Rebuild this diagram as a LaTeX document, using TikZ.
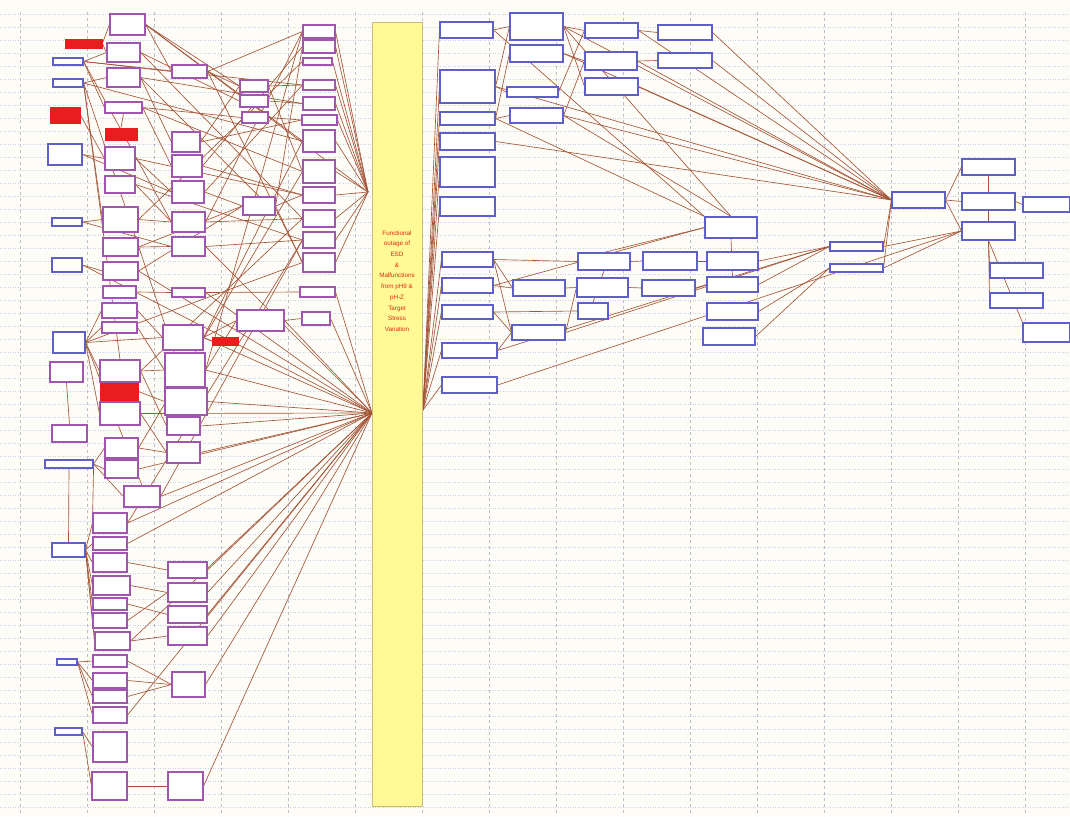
\documentclass[tikz,border=0pt]{standalone}
\usepackage{fontspec}
\newfontfamily\barfont{Liberation Sans}
\usepackage{xcolor}
\usepackage{tikz}
\usetikzlibrary{backgrounds}

\definecolor{sheet}{RGB}{253,252,246}
\definecolor{hgridc}{RGB}{200,210,238}
\definecolor{vgridc}{RGB}{190,190,205}
\definecolor{boxblue}{RGB}{95,95,200}
\definecolor{boxpurple}{RGB}{160,85,175}
\definecolor{boxred}{RGB}{232,30,30}
\definecolor{wirebrown}{RGB}{165,85,55}
\definecolor{baryellow}{RGB}{255,250,150}
\definecolor{barline}{RGB}{205,185,120}
\definecolor{bartextc}{RGB}{225,40,20}

\begin{document}
\begin{tikzpicture}[
  x=1pt, y=-1pt,
  wh/.style 2 args={minimum width=#1, minimum height=#2},
  bbox/.style={draw=boxblue, line width=1.1pt, fill=white, inner sep=0pt},
  pbox/.style={draw=boxpurple, line width=1.1pt, fill=white, inner sep=0pt},
  rbox/.style={draw=boxred, line width=0.8pt, fill=boxred, inner sep=0pt},
  bar/.style={draw=barline, line width=0.8pt, fill=baryellow, inner sep=0pt},
  bartext/.style={font=\barfont\fontsize{6.3}{10.7}\selectfont, text=bartextc, align=center, inner sep=0pt},
  wire/.style={draw=wirebrown, line width=0.65pt},
  hgrid/.style={draw=hgridc, line width=0.5pt, dotted},
  vgrid/.style={draw=vgridc, line width=0.5pt, dashed}
]
\useasboundingbox (0,0) rectangle (1070,816);

% sheet and grid
\begin{scope}[on background layer]
\fill[sheet] (0,0) rectangle (1070,816);
\foreach \gy in {14,27,...,814} \draw[hgrid] (0,\gy) -- (1070,\gy);
\foreach \gx in {20,87,...,1060} \draw[vgrid] (\gx,12) -- (\gx,816);
\end{scope}

% central bar
\node[bar, wh={50}{784}] (esd) at (397,414) {};
\node[bartext] (esdtxt) at (397,281) {Functional\\outage of\\ESD\\\&\\Malfunctions\\from pH9 \&\\pH-Z\\Target\\Stress\\Variation};
\coordinate (hubL) at (372,413);
\coordinate (hubU) at (368,192);
\coordinate (hubR) at (423,410);

% left: column a
\node[rbox, wh={37}{9}]  (a1)  at (83.5,43.5) {};
\node[bbox, wh={30}{7}]  (a2)  at (68,61.5) {};
\node[bbox, wh={30}{8}]  (a3)  at (68,83) {};
\node[rbox, wh={30}{16}] (a4)  at (65,115) {};
\node[bbox, wh={34}{21}] (a5)  at (65,154.5) {};
\node[bbox, wh={30}{8}]  (a6)  at (67,222) {};
\node[bbox, wh={30}{14}] (a7)  at (67,265) {};
\node[bbox, wh={32}{21}] (a8)  at (69,342.5) {};
\node[pbox, wh={33}{20}] (a9)  at (66.5,372) {};
\node[pbox, wh={35}{17}] (a10) at (69.5,433.5) {};
\node[bbox, wh={48}{8}]  (a11) at (69,464) {};
\node[bbox, wh={33}{14}] (a12) at (68.5,550) {};
\node[bbox, wh={20}{6}]  (a13) at (67,662) {};
\node[bbox, wh={27}{7}]  (a14) at (68.5,731.5) {};

% left: column b
\node[pbox, wh={35}{21}] (b1)  at (127.5,24.5) {};
\node[pbox, wh={33}{19}] (b2)  at (123.5,52.5) {};
\node[pbox, wh={33}{19}] (b3)  at (123.5,77.5) {};
\node[pbox, wh={37}{11}] (b4)  at (123.5,107.5) {};
\node[rbox, wh={32}{12}] (b5)  at (121,134) {};
\node[pbox, wh={30}{23}] (b6)  at (120,158.5) {};
\node[pbox, wh={30}{17}] (b7)  at (120,184.5) {};
\node[pbox, wh={35}{25}] (b8)  at (120.5,219.5) {};
\node[pbox, wh={35}{18}] (b9)  at (120.5,247) {};
\node[pbox, wh={35}{18}] (b10) at (120.5,271) {};
\node[pbox, wh={33}{12}] (b11) at (119.5,292) {};
\node[pbox, wh={35}{15}] (b12) at (119.5,310.5) {};
\node[pbox, wh={35}{11}] (b13) at (119.5,327.5) {};
\node[pbox, wh={40}{22}] (b14) at (120,371) {};
\node[rbox, wh={38}{17}] (b15) at (119,391.5) {};
\node[pbox, wh={40}{23}] (b16) at (120,413.5) {};
\node[pbox, wh={33}{20}] (b17) at (121.5,448) {};
\node[pbox, wh={33}{18}] (b18) at (121.5,469) {};
\node[pbox, wh={36}{21}] (b19) at (142,496.5) {};
\node[pbox, wh={34}{20}] (b20) at (110,523) {};
\node[pbox, wh={34}{13}] (b21) at (110,543.5) {};
\node[pbox, wh={34}{19}] (b22) at (110,562.5) {};
\node[pbox, wh={37}{19}] (b23) at (111.5,585.5) {};
\node[pbox, wh={34}{12}] (b24) at (110,604) {};
\node[pbox, wh={34}{15}] (b25) at (110,620.5) {};
\node[pbox, wh={35}{18}] (b26) at (112.5,641) {};
\node[pbox, wh={34}{12}] (b27) at (110,661) {};
\node[pbox, wh={34}{15}] (b28) at (110,680.5) {};
\node[pbox, wh={34}{13}] (b29) at (110,696.5) {};
\node[pbox, wh={34}{16}] (b30) at (110,715) {};
\node[pbox, wh={34}{30}] (b31) at (110,747) {};
\node[pbox, wh={35}{28}] (b32) at (109.5,786) {};

% left: column c
\node[pbox, wh={35}{13}] (c1)  at (189.5,71.5) {};
\node[pbox, wh={28}{20}] (c2)  at (186,142) {};
\node[pbox, wh={30}{22}] (c3)  at (187,166) {};
\node[pbox, wh={32}{22}] (c4)  at (188,192) {};
\node[pbox, wh={33}{20}] (c5)  at (188.5,222) {};
\node[pbox, wh={33}{19}] (c6)  at (188.5,246.5) {};
\node[pbox, wh={33}{9}]  (c7)  at (188.5,292.5) {};
\node[pbox, wh={40}{25}] (c8)  at (183,337.5) {};
\node[pbox, wh={40}{34}] (c9)  at (185,370) {};
\node[pbox, wh={42}{27}] (c10) at (186,401.5) {};
\node[pbox, wh={33}{18}] (c11) at (183.5,426) {};
\node[pbox, wh={33}{21}] (c12) at (183.5,452.5) {};
\node[pbox, wh={39}{16}] (c13) at (187.5,570) {};
\node[pbox, wh={39}{19}] (c14) at (187.5,592.5) {};
\node[pbox, wh={39}{17}] (c15) at (187.5,614.5) {};
\node[pbox, wh={39}{18}] (c16) at (187.5,636) {};
\node[pbox, wh={33}{25}] (c17) at (188.5,684.5) {};
\node[pbox, wh={35}{28}] (c18) at (185.5,786) {};

% left: columns d and e
\node[pbox, wh={28}{12}] (d1) at (254,86) {};
\node[pbox, wh={28}{12}] (d2) at (254,101) {};
\node[pbox, wh={26}{11}] (d3) at (255,117.5) {};
\node[pbox, wh={32}{18}] (d4) at (259,206) {};
\node[pbox, wh={47}{21}] (d5) at (260.5,320.5) {};
\node[rbox, wh={26}{8}]  (d6) at (225,341) {};
\node[pbox, wh={32}{13}] (e1)  at (319,31.5) {};
\node[pbox, wh={32}{13}] (e2)  at (319,46.5) {};
\node[pbox, wh={29}{7}]  (e3)  at (317.5,61.5) {};
\node[pbox, wh={32}{10}] (e4)  at (319,85) {};
\node[pbox, wh={32}{13}] (e5)  at (319,103.5) {};
\node[pbox, wh={35}{10}] (e6)  at (319.5,120) {};
\node[pbox, wh={32}{22}] (e7)  at (319,141) {};
\node[pbox, wh={32}{23}] (e8)  at (319,171.5) {};
\node[pbox, wh={32}{16}] (e9)  at (319,195) {};
\node[pbox, wh={32}{17}] (e10) at (319,218.5) {};
\node[pbox, wh={32}{16}] (e11) at (319,240) {};
\node[pbox, wh={32}{19}] (e12) at (319,262.5) {};
\node[pbox, wh={35}{10}] (e13) at (317.5,292) {};
\node[pbox, wh={28}{13}] (e14) at (316,318.5) {};

% right: columns f and g
\node[bbox, wh={53}{16}] (f1)  at (466.5,30) {};
\node[bbox, wh={55}{33}] (f2)  at (467.5,86.5) {};
\node[bbox, wh={55}{13}] (f3)  at (467.5,118.5) {};
\node[bbox, wh={55}{17}] (f4)  at (467.5,141.5) {};
\node[bbox, wh={55}{30}] (f5)  at (467.5,172) {};
\node[bbox, wh={55}{19}] (f6)  at (467.5,206.5) {};
\node[bbox, wh={51}{15}] (f7)  at (467.5,259.5) {};
\node[bbox, wh={51}{15}] (f8)  at (467.5,285.5) {};
\node[bbox, wh={51}{14}] (f9)  at (467.5,312) {};
\node[bbox, wh={55}{15}] (f10) at (469.5,350.5) {};
\node[bbox, wh={55}{16}] (f11) at (469.5,385) {};
\node[bbox, wh={53}{27}] (g1) at (536.5,26.5) {};
\node[bbox, wh={53}{17}] (g2) at (536.5,53.5) {};
\node[bbox, wh={51}{10}] (g3) at (532.5,92) {};
\node[bbox, wh={53}{15}] (g4) at (536.5,115.5) {};
\node[bbox, wh={52}{16}] (g5) at (539,288) {};
\node[bbox, wh={53}{15}] (g6) at (538.5,332.5) {};

% right: columns h to k
\node[bbox, wh={53}{15}] (h1) at (611.5,30.5) {};
\node[bbox, wh={52}{18}] (h2) at (611,61) {};
\node[bbox, wh={53}{17}] (h3) at (611.5,86.5) {};
\node[bbox, wh={52}{17}] (h4) at (604,261.5) {};
\node[bbox, wh={51}{19}] (h5) at (602.5,287.5) {};
\node[bbox, wh={30}{16}] (h6) at (593,311) {};
\node[bbox, wh={54}{15}] (i1) at (685,32.5) {};
\node[bbox, wh={54}{15}] (i2) at (685,60.5) {};
\node[bbox, wh={54}{18}] (i3) at (670,261) {};
\node[bbox, wh={53}{16}] (i4) at (668.5,288) {};
\node[bbox, wh={52}{21}] (j1) at (731,227.5) {};
\node[bbox, wh={51}{18}] (j2) at (732.5,261) {};
\node[bbox, wh={51}{15}] (j3) at (732.5,284.5) {};
\node[bbox, wh={51}{17}] (j4) at (732.5,311.5) {};
\node[bbox, wh={52}{17}] (j5) at (729,336.5) {};
\node[bbox, wh={53}{9}]  (k1) at (856.5,246.5) {};
\node[bbox, wh={53}{8}]  (k2) at (856.5,268) {};

% right: outcome cluster
\node[bbox, wh={53}{16}] (m1) at (918.5,200) {};
\node[bbox, wh={53}{16}] (n1) at (988.5,167) {};
\node[bbox, wh={53}{17}] (n2) at (988.5,201.5) {};
\node[bbox, wh={53}{18}] (n3) at (988.5,231) {};
\node[bbox, wh={47}{15}] (n4) at (1046.5,204.5) {};
\node[bbox, wh={53}{15}] (n5) at (1016.5,270.5) {};
\node[bbox, wh={53}{15}] (n6) at (1016.5,300.5) {};
\node[bbox, wh={47}{19}] (n7) at (1046.5,332.5) {};

\begin{scope}[on background layer]
% left upper links
\draw[wire] (a1.east) -- (b1.west);
\draw[wire] (a1.east) -- (b2.west);
\draw[wire] (a2.east) -- (b2.west);
\draw[wire] (a2.east) -- (b4.west);
\draw[wire] (a2.east) -- (c1.west);
\draw[wire] (a2.east) -- (e4.west);
\draw[wire] (a2.east) -- (c5.west);
\draw[wire] (a3.east) -- (b3.west);
\draw[wire] (a3.east) -- (b8.west);
\draw[wire] (a3.east) -- (b14.north);
\draw[wire] (a3.east) -- (c10.north);
\draw[wire] (a3.east) -- (e7.west);
\draw[wire] (a4.east) -- (b6.west);
\draw[wire] (a5.east) -- (b6.west);
\draw[wire] (a5.east) -- (c4.west);
\draw[wire] (a6.east) -- (b8.west);
\draw[wire] (a6.east) -- (c6.west);
\draw[wire] (a7.east) -- (b10.west);
\draw[wire] (a7.east) -- (hubL);
\draw[wire] (b1.east) -- (c1.west);
\draw[wire] (b1.east) -- (d1.west);
\draw[wire] (b1.east) -- (e7.west);
\draw[wire] (b1.east) -- (hubU);
\draw[wire] (b2.east) -- (d2.west);
\draw[wire] (b2.east) -- (e10.west);
\draw[wire] (b3.east) -- (c2.west);
\draw[wire] (b3.east) -- (e5.west);
\draw[wire] (b3.east) -- (d4.north);
\draw[wire] (b4.east) -- (c3.west);
\draw[wire] (b4.east) -- (d3.west);
\draw[wire] (b4.east) -- (e8.west);
\draw[wire] (b4.south) -- (b5.north);
\draw[wire] (b6.east) -- (c4.west);
\draw[wire] (b6.east) -- (e9.west);
\draw[wire] (b7.east) -- (c5.west);
\draw[wire] (b7.east) -- (e11.west);
\draw[wire] (b8.east) -- (c5.west);
\draw[wire] (b8.east) -- (e3.west);
\draw[wire] (b9.east) -- (c6.west);
\draw[wire] (b9.east) -- (d4.west);
\draw[wire] (b10.east) -- (d4.west);
\draw[wire] (b10.east) -- (hubL);
\draw[wire] (b11.east) -- (c7.west);
\draw[wire] (c1.east) -- (d1.west);
\draw[wire] (c1.east) -- (e1.west);
\draw[wire] (c1.east) -- (e12.west);
\draw[wire] (c2.east) -- (d1.west);
\draw[wire] (c2.east) -- (e6.west);
\draw[wire] (c3.east) -- (e9.west);
\draw[wire] (c3.east) -- (e2.west);
\draw[wire] (c4.east) -- (d4.west);
\draw[wire] (c4.east) -- (e4.west);
\draw[wire] (c5.east) -- (e10.west);
\draw[wire] (c5.east) -- (e1.west);
\draw[wire] (c6.east) -- (e11.west);
\draw[wire] (c6.east) -- (hubL);
\draw[wire] (c7.east) -- (e13.west);
\draw[wire] (c7.east) -- (hubL);
\draw[wire] (d1.east) -- (e4.west);
\draw[wire] (d1.east) -- (e8.west);
\draw[wire] (d2.east) -- (e5.west);
\draw[wire] (d3.east) -- (e6.west);
\draw[wire] (d4.east) -- (e9.west);
\draw[wire] (d4.east) -- (e2.west);
\draw[wire] (d4.east) -- (e12.west);
% column e into the upper meeting point
\foreach \e in {e1,e2,e3,e4,e5,e6,e7,e8,e9,e10,e11,e12}
  \draw[wire] (\e.east) -- (hubU);
\draw[wire] (e13.east) -- (hubL);
\draw[wire] (e14.east) -- (hubL);

% left middle links
\draw[wire] (a8.east) -- (b12.west);
\draw[wire] (a8.east) -- (b13.west);
\draw[wire] (a8.east) -- (b14.west);
\draw[wire] (a8.east) -- (b16.west);
\draw[wire] (a8.east) -- (c8.west);
\draw[wire] (a8.east) -- (b19.north);
\draw[wire] (a8.east) -- (e12.west);
\draw[wire] (a9.south) -- (a10.north);
\draw[wire] (a11.east) -- (b17.west);
\draw[wire] (a11.east) -- (b18.west);
\draw[wire] (a11.east) -- (b19.west);
\draw[wire] (a11.south east) -- (b20.west);
\draw[wire] (a11.south) -- (a12.north);
\draw[wire] (b12.east) -- (c8.west);
\draw[wire] (b13.east) -- (c9.west);
\draw[wire] (b14.east) -- (c9.west);
\draw[wire] (b14.east) -- (c11.west);
\draw[wire] (b14.east) -- (e10.west);
\draw[wire] (b15.east) -- (c10.west);
\draw[wire] (b16.east) -- (c12.west);
\draw[wire] (b16.east) -- (hubL);
\draw[wire] (b17.east) -- (c12.west);
\draw[wire] (b17.east) -- (e8.west);
\draw[wire] (b18.east) -- (hubL);
\draw[wire] (b19.east) -- (hubL);
\draw[wire] (b19.east) -- (e11.west);
\draw[wire] (c8.east) -- (d5.west);
\draw[wire] (c8.east) -- (d6.west);
\draw[wire] (c8.east) -- (e7.west);
\draw[wire] (c9.east) -- (e1.west);
\draw[wire] (c9.east) -- (d5.west);
\draw[wire] (d5.east) -- (e14.west);
\draw[wire] (d5.east) -- (hubL);
\foreach \c in {c8,c9,c10,c11,c12}
  \draw[wire] (\c.east) -- (hubL);

% left lower links
\foreach \b in {b20,b21,b22,b23,b24,b25,b26}
  \draw[wire] (a12.east) -- (\b.west);
\foreach \b in {b27,b28,b29,b30}
  \draw[wire] (a13.east) -- (\b.west);
\draw[wire] (a14.east) -- (b31.west);
\draw[wire] (a14.east) -- (b32.west);
\draw[wire] (b20.east) -- (hubL);
\draw[wire] (b21.east) -- (hubL);
\draw[wire] (b20.east) -- (e11.west);
\draw[wire] (b22.east) -- (c13.west);
\draw[wire] (b23.east) -- (c14.west);
\draw[wire] (b24.east) -- (c15.west);
\draw[wire] (b25.east) -- (c14.west);
\draw[wire] (b26.east) -- (c16.west);
\draw[wire] (b26.east) -- (hubL);
\draw[wire] (b27.east) -- (c17.west);
\draw[wire] (b28.east) -- (c17.west);
\draw[wire] (b29.east) -- (c17.west);
\draw[wire] (b30.east) -- (hubL);
\draw[wire] (b32.east) -- (c18.west);
\foreach \c in {c13,c14,c15,c16,c17,c18}
  \draw[wire] (\c.east) -- (hubL);

% right: bar to column f
\foreach \f in {f1,f2,f3,f4,f5,f6,f7,f8,f9,f10,f11}
  \draw[wire] (hubR) -- (\f.west);

% right upper links
\draw[wire] (f1.east) -- (g1.west);
\draw[wire] (f1.east) -- (j1.north west);
\draw[wire] (f2.east) -- (g1.west);
\draw[wire] (f2.east) -- (g3.west);
\draw[wire] (f2.east) -- (m1.west);
\draw[wire] (f3.east) -- (g4.west);
\draw[wire] (f3.east) -- (g2.west);
\draw[wire] (f3.east) -- (j1.north west);
\draw[wire] (f4.east) -- (m1.west);
\draw[wire] (g1.east) -- (h1.west);
\draw[wire] (g1.east) -- (h3.west);
\draw[wire] (g1.east) -- (m1.west);
\draw[wire] (g1.east) -- (j1.north);
\draw[wire] (g2.east) -- (h2.west);
\draw[wire] (g2.east) -- (m1.west);
\draw[wire] (g3.east) -- (h1.west);
\draw[wire] (g4.east) -- (h2.west);
\draw[wire] (g4.east) -- (m1.west);
\draw[wire] (g4.east) -- (j1.north);
\draw[wire] (h1.east) -- (i1.west);
\draw[wire] (h1.east) -- (m1.west);
\draw[wire] (h2.east) -- (i2.west);
\draw[wire] (h2.east) -- (m1.west);
\draw[wire] (h3.east) -- (m1.west);
\draw[wire] (i1.east) -- (m1.west);
\draw[wire] (i2.east) -- (m1.west);

% right middle links
\draw[wire] (f7.east) -- (h4.west);
\draw[wire] (f7.east) -- (g5.west);
\draw[wire] (f7.east) -- (g6.west);
\draw[wire] (f8.east) -- (g5.west);
\draw[wire] (f8.east) -- (j1.west);
\draw[wire] (f9.east) -- (g6.west);
\draw[wire] (f9.east) -- (h6.west);
\draw[wire] (f10.east) -- (g6.west);
\draw[wire] (f10.east) -- (k1.west);
\draw[wire] (f11.east) -- (n3.west);
\draw[wire] (g5.east) -- (h5.west);
\draw[wire] (g6.east) -- (h5.west);
\draw[wire] (g6.east) -- (k1.west);
\draw[wire] (h4.south) -- (h6.north);
\draw[wire] (h4.east) -- (i3.west);
\draw[wire] (h4.north) -- (j1.west);
\draw[wire] (h5.east) -- (i4.west);
\draw[wire] (i3.east) -- (j2.west);
\draw[wire] (i4.east) -- (j3.west);
\draw[wire] (j1.south) -- (j3.north);
\draw[wire] (j2.east) -- (k1.west);
\draw[wire] (j3.east) -- (k1.west);
\draw[wire] (j4.east) -- (k2.west);
\draw[wire] (j5.east) -- (k2.west);
\draw[wire] (k1.east) -- (m1.west);
\draw[wire] (k2.east) -- (m1.west);
\draw[wire] (k1.east) -- (n3.west);
\draw[wire] (k2.east) -- (n3.west);

% outcome links
\draw[wire] (m1.east) -- (n1.west);
\draw[wire] (m1.east) -- (n2.west);
\draw[wire] (m1.east) -- (n3.west);
\draw[wire] (n2.east) -- (n4.west);
\draw[wire] (n1.south) -- (n3.north);
\draw[wire] (n3.south) -- (n5.north west);
\draw[wire] (n3.south) -- (n6.north west);
\draw[wire] (n3.south) -- (n7.north west);
\end{scope}
\end{tikzpicture}
\end{document}
